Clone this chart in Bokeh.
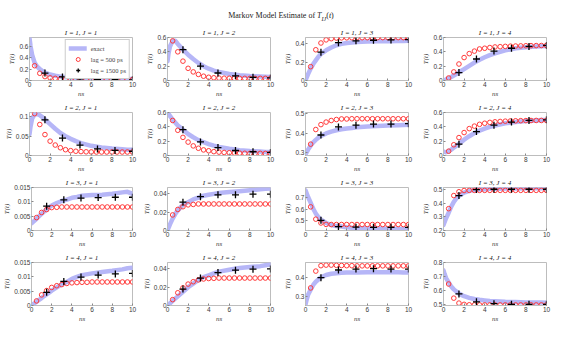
from bokeh.plotting import figure
from bokeh.layouts import column, row
from bokeh.models import Div, Range1d, FixedTicker, CustomJSTickFormatter
from bokeh.embed import file_html
from bokeh.resources import INLINE

# time grids (ns)
t_exact = [0, 0.1, 0.25, 0.5, 0.75, 1, 1.25, 1.5, 2, 2.5, 3, 3.5, 4, 4.5, 5, 6, 7, 8, 9, 9.5, 10]
t_500 = [0.5, 1.0, 1.5, 2.0, 2.5, 3.0, 3.5, 4.0, 4.5, 5.0, 5.5, 6.0, 6.5, 7.0, 7.5, 8.0, 8.5, 9.0, 9.5, 10.0]
t_1500 = [1.5, 3.2, 4.9, 6.6, 8.3, 10.0]
x_ticks = [0, 2, 4, 6, 8, 10]

# exact curves
ex_11 = [0.74, 0.6, 0.45, 0.31, 0.24, 0.2, 0.165, 0.14, 0.105, 0.083, 0.068, 0.058, 0.05, 0.044, 0.04, 0.034, 0.03, 0.028, 0.026, 0.025, 0.025]
ex_12 = [0.27, 0.38, 0.48, 0.55, 0.555, 0.51, 0.47, 0.43, 0.36, 0.30, 0.245, 0.2, 0.165, 0.138, 0.118, 0.09, 0.074, 0.063, 0.056, 0.053, 0.05]
ex_13 = [0, 0.03, 0.07, 0.13, 0.18, 0.22, 0.26, 0.29, 0.33, 0.36, 0.385, 0.4, 0.41, 0.415, 0.42, 0.425, 0.428, 0.43, 0.432, 0.433, 0.434]
ex_14 = [0, 0.005, 0.015, 0.03, 0.05, 0.07, 0.09, 0.115, 0.16, 0.205, 0.25, 0.29, 0.325, 0.355, 0.38, 0.42, 0.45, 0.465, 0.475, 0.478, 0.48]
ex_21 = [0.055, 0.075, 0.095, 0.106, 0.107, 0.104, 0.099, 0.093, 0.081, 0.069, 0.058, 0.05, 0.043, 0.037, 0.032, 0.025, 0.021, 0.018, 0.016, 0.015, 0.015]
ex_22 = [0.6, 0.58, 0.55, 0.5, 0.46, 0.42, 0.39, 0.36, 0.3, 0.255, 0.215, 0.185, 0.16, 0.138, 0.12, 0.093, 0.075, 0.063, 0.055, 0.05, 0.048]
ex_23 = [0.29, 0.3, 0.315, 0.335, 0.352, 0.365, 0.376, 0.385, 0.398, 0.407, 0.414, 0.419, 0.423, 0.426, 0.429, 0.433, 0.436, 0.438, 0.44, 0.441, 0.442]
ex_24 = [0.055, 0.05, 0.045, 0.059, 0.081, 0.111, 0.135, 0.162, 0.221, 0.269, 0.313, 0.346, 0.374, 0.399, 0.419, 0.449, 0.468, 0.481, 0.489, 0.494, 0.495]
ex_31 = [0.0025, 0.0028, 0.0033, 0.0041, 0.005, 0.0058, 0.0066, 0.0074, 0.0087, 0.0096, 0.0103, 0.0108, 0.0114, 0.0117, 0.0121, 0.0124, 0.0125, 0.0128, 0.0133, 0.0135, 0.0128]
ex_32 = [0, 0.003, 0.007, 0.013, 0.018, 0.022, 0.025, 0.028, 0.031, 0.034, 0.036, 0.038, 0.039, 0.04, 0.041, 0.042, 0.043, 0.044, 0.045, 0.0455, 0.046]
ex_33 = [0.757, 0.734, 0.70, 0.653, 0.602, 0.562, 0.533, 0.511, 0.483, 0.466, 0.457, 0.453, 0.447, 0.443, 0.441, 0.439, 0.437, 0.434, 0.432, 0.431, 0.432]
ex_34 = [0.24, 0.26, 0.29, 0.33, 0.375, 0.41, 0.435, 0.453, 0.477, 0.49, 0.497, 0.5, 0.503, 0.505, 0.506, 0.507, 0.508, 0.509, 0.51, 0.51, 0.51]
ex_41 = [0, 0.0003, 0.0007, 0.0013, 0.002, 0.0026, 0.0033, 0.0039, 0.0052, 0.0063, 0.0074, 0.0082, 0.0093, 0.01, 0.0106, 0.0112, 0.0117, 0.0121, 0.0126, 0.013, 0.0132]
ex_42 = [0, 0.001, 0.0025, 0.005, 0.0075, 0.01, 0.0125, 0.015, 0.02, 0.024, 0.028, 0.031, 0.033, 0.035, 0.037, 0.039, 0.041, 0.042, 0.043, 0.044, 0.045]
ex_43 = [0.255, 0.279, 0.307, 0.334, 0.36, 0.377, 0.389, 0.401, 0.413, 0.42, 0.423, 0.425, 0.426, 0.427, 0.427, 0.428, 0.428, 0.428, 0.428, 0.427, 0.427]
ex_44 = [0.745, 0.72, 0.69, 0.66, 0.63, 0.61, 0.595, 0.58, 0.562, 0.55, 0.542, 0.536, 0.532, 0.528, 0.526, 0.522, 0.52, 0.518, 0.517, 0.517, 0.516]

# lag = 500 ps estimates
r_11 = [0.258, 0.126, 0.068, 0.047, 0.037, 0.028, 0.022, 0.019, 0.017, 0.016, 0.015, 0.015, 0.015, 0.015, 0.015, 0.015, 0.015, 0.015, 0.015, 0.015]
r_12 = [0.553, 0.40, 0.27, 0.17, 0.12, 0.085, 0.06, 0.045, 0.038, 0.034, 0.032, 0.031, 0.03, 0.03, 0.03, 0.03, 0.03, 0.03, 0.03, 0.03]
r_13 = [0.151, 0.336, 0.41, 0.444, 0.457, 0.464, 0.466, 0.467, 0.468, 0.468, 0.468, 0.468, 0.469, 0.469, 0.469, 0.469, 0.469, 0.469, 0.469, 0.469]
r_14 = [0.035, 0.12, 0.23, 0.32, 0.375, 0.41, 0.44, 0.45, 0.46, 0.468, 0.472, 0.476, 0.479, 0.481, 0.483, 0.485, 0.486, 0.487, 0.488, 0.489]
r_21 = [0.108, 0.08, 0.054, 0.037, 0.027, 0.02, 0.015, 0.0125, 0.011, 0.01, 0.0095, 0.0092, 0.009, 0.009, 0.009, 0.009, 0.009, 0.009, 0.009, 0.009]
r_22 = [0.489, 0.352, 0.253, 0.187, 0.134, 0.101, 0.078, 0.066, 0.054, 0.047, 0.042, 0.038, 0.035, 0.033, 0.031, 0.03, 0.03, 0.03, 0.029, 0.029]
r_23 = [0.343, 0.418, 0.443, 0.456, 0.464, 0.469, 0.472, 0.472, 0.473, 0.473, 0.473, 0.473, 0.473, 0.473, 0.473, 0.473, 0.473, 0.473, 0.473, 0.473]
r_24 = [0.06, 0.15, 0.25, 0.32, 0.375, 0.41, 0.435, 0.45, 0.462, 0.47, 0.475, 0.479, 0.482, 0.484, 0.486, 0.487, 0.488, 0.489, 0.489, 0.49]
r_31 = [0.0045, 0.0063, 0.0073, 0.008, 0.0081, 0.0082, 0.0082, 0.0082, 0.0082, 0.0082, 0.0082, 0.0082, 0.0082, 0.0082, 0.0082, 0.0082, 0.0082, 0.0082, 0.0082, 0.0082]
r_32 = [0.017, 0.023, 0.026, 0.028, 0.0285, 0.029, 0.029, 0.029, 0.029, 0.029, 0.029, 0.029, 0.029, 0.029, 0.029, 0.029, 0.029, 0.029, 0.029, 0.029]
r_33 = [0.618, 0.515, 0.483, 0.471, 0.47, 0.47, 0.47, 0.47, 0.47, 0.47, 0.47, 0.47, 0.47, 0.47, 0.47, 0.47, 0.47, 0.47, 0.47, 0.47]
r_34 = [0.36, 0.456, 0.484, 0.493, 0.494, 0.494, 0.494, 0.494, 0.494, 0.494, 0.494, 0.494, 0.494, 0.494, 0.494, 0.494, 0.494, 0.494, 0.494, 0.494]
r_41 = [0.0016, 0.0037, 0.0052, 0.0063, 0.0069, 0.0073, 0.0077, 0.0079, 0.008, 0.0081, 0.0081, 0.0082, 0.0082, 0.0082, 0.0082, 0.0082, 0.0082, 0.0082, 0.0082, 0.0082]
r_42 = [0.0064, 0.0139, 0.0193, 0.0234, 0.026, 0.028, 0.029, 0.0295, 0.0297, 0.03, 0.03, 0.03, 0.03, 0.03, 0.03, 0.03, 0.03, 0.03, 0.03, 0.03]
r_43 = [0.344, 0.434, 0.463, 0.466, 0.466, 0.465, 0.464, 0.463, 0.463, 0.462, 0.462, 0.462, 0.462, 0.462, 0.462, 0.462, 0.462, 0.462, 0.462, 0.462]
r_44 = [0.648, 0.548, 0.513, 0.504, 0.501, 0.5, 0.5, 0.5, 0.5, 0.5, 0.5, 0.5, 0.5, 0.5, 0.5, 0.5, 0.5, 0.5, 0.5, 0.5]

# lag = 1500 ps estimates
p_11 = [0.13, 0.063, 0.03, 0.02, 0.016, 0.012]
p_12 = [0.43, 0.2, 0.105, 0.065, 0.045, 0.036]
p_13 = [0.31, 0.413, 0.434, 0.44, 0.444, 0.447]
p_14 = [0.11, 0.3, 0.41, 0.45, 0.475, 0.49]
p_21 = [0.092, 0.045, 0.027, 0.017, 0.013, 0.011]
p_22 = [0.36, 0.19, 0.11, 0.07, 0.052, 0.043]
p_23 = [0.39, 0.431, 0.44, 0.446, 0.446, 0.448]
p_24 = [0.158, 0.334, 0.423, 0.467, 0.489, 0.498]
p_31 = [0.0085, 0.0107, 0.0113, 0.0115, 0.0116, 0.0116]
p_32 = [0.031, 0.037, 0.039, 0.039, 0.0397, 0.0397]
p_33 = [0.505, 0.452, 0.448, 0.447, 0.447, 0.447]
p_34 = [0.456, 0.5, 0.502, 0.502, 0.502, 0.502]
p_41 = [0.0046, 0.0084, 0.0099, 0.0106, 0.011, 0.0112]
p_42 = [0.018, 0.03, 0.036, 0.0386, 0.0397, 0.04]
p_43 = [0.399, 0.44, 0.445, 0.447, 0.445, 0.445]
p_44 = [0.578, 0.522, 0.509, 0.504, 0.504, 0.504]

# y-axis limits and ticks
ylim_rows = [
    [(0, 0.75), (0, 0.6), (0, 0.47), (0, 0.6)],
    [(0, 0.111), (0, 0.6), (0.285, 0.505), (0, 0.6)],
    [(0, 0.015), (0, 0.047), (0.42, 0.78), (0.2, 0.515)],
    [(0, 0.015), (0, 0.047), (0.25, 0.48), (0.496, 0.8)],
]
yticks_rows = [
    [[0, 0.2, 0.4, 0.6], [0, 0.2, 0.4, 0.6], [0, 0.2, 0.4], [0, 0.2, 0.4, 0.6]],
    [[0, 0.05, 0.1], [0, 0.2, 0.4, 0.6], [0.3, 0.4, 0.5], [0, 0.2, 0.4, 0.6]],
    [[0, 0.005, 0.01, 0.015], [0, 0.02, 0.04], [0.5, 0.6, 0.7], [0.2, 0.3, 0.4, 0.5]],
    [[0, 0.005, 0.01, 0.015], [0, 0.02, 0.04], [0.3, 0.4], [0.5, 0.6, 0.7, 0.8]],
]

exact_rows = [[ex_11, ex_12, ex_13, ex_14], [ex_21, ex_22, ex_23, ex_24],
              [ex_31, ex_32, ex_33, ex_34], [ex_41, ex_42, ex_43, ex_44]]
red_rows = [[r_11, r_12, r_13, r_14], [r_21, r_22, r_23, r_24],
            [r_31, r_32, r_33, r_34], [r_41, r_42, r_43, r_44]]
plus_rows = [[p_11, p_12, p_13, p_14], [p_21, p_22, p_23, p_24],
             [p_31, p_32, p_33, p_34], [p_41, p_42, p_43, p_44]]

SERIF = "Liberation Serif"
SANS = "Liberation Sans"
GRAY = "#bdbdbd"
TXT = "#3a3a3a"

fmt_code = "return String(tick);"

rows = []
for i in range(4):
    figs = []
    for j in range(4):
        lo, hi = ylim_rows[i][j]
        p = figure(width=138, height=75, output_backend="svg", toolbar_location=None,
                   x_range=Range1d(0, 10), y_range=Range1d(lo, hi),
                   min_border_left=29, min_border_right=6, min_border_top=12, min_border_bottom=12)
        p.title.text = f"I = {i+1}, J = {j+1}"
        p.title.align = "center"
        p.title.text_font = SERIF
        p.title.text_font_style = "italic"
        p.title.text_font_size = "7px"
        p.title.text_color = "#222222"
        p.title.standoff = 1
        p.xgrid.visible = False
        p.ygrid.visible = False
        p.outline_line_color = GRAY
        p.background_fill_color = "white"
        p.border_fill_color = "white"

        p.xaxis.ticker = FixedTicker(ticks=x_ticks)
        p.yaxis.ticker = FixedTicker(ticks=yticks_rows[i][j])
        p.yaxis.formatter = CustomJSTickFormatter(code=fmt_code)
        p.xaxis.axis_label = "ns"
        p.yaxis.axis_label = "T(t)"
        for ax in (p.xaxis[0], p.yaxis[0]):
            ax.axis_line_color = GRAY
            ax.major_tick_line_color = "#888888"
            ax.major_tick_in = 2
            ax.major_tick_out = 0
            ax.minor_tick_line_color = None
            ax.major_label_text_font = SANS
            ax.major_label_text_font_size = "6.5px"
            ax.major_label_text_color = TXT
            ax.major_label_standoff = 1
            ax.axis_label_text_font = SERIF
            ax.axis_label_text_font_style = "italic"
            ax.axis_label_text_font_size = "7px"
            ax.axis_label_text_color = TXT
            ax.axis_label_standoff = 0

        kw_e = dict(legend_label="exact") if (i == 0 and j == 0) else {}
        kw_r = dict(legend_label="lag = 500 ps") if (i == 0 and j == 0) else {}
        kw_p = dict(legend_label="lag = 1500 ps") if (i == 0 and j == 0) else {}
        p.line(t_exact, exact_rows[i][j], line_width=4.5, line_color="#b6b6f7",
               line_join="round", line_cap="round", **kw_e)
        p.scatter(t_500, red_rows[i][j], marker="circle", size=4.6, fill_color=None,
                  line_color="#ff3a3a", line_width=1, **kw_r)
        p.scatter(t_1500, plus_rows[i][j], marker="cross", size=7, line_color="black",
                  line_width=1.3, **kw_p)
        if i == 0 and j == 0:
            lg = p.legend[0]
            lg.location = "top_right"
            lg.label_text_font = SERIF
            lg.label_text_font_size = "6.5px"
            lg.label_height = 10
            lg.glyph_height = 10
            lg.glyph_width = 18
            lg.spacing = 1
            lg.padding = 3
            lg.margin = 2
            lg.label_standoff = 4
            lg.border_line_color = "#999999"
            lg.background_fill_alpha = 1
        figs.append(p)
    rows.append(row(*figs))

title = Div(text='Markov Model Estimate of <i>T</i><sub style="font-size:6px"><i>IJ</i></sub>(<i>t</i>)',
            width=552, height=15,
            styles={"text-align": "center", "font-family": SERIF, "font-size": "8px",
                    "color": "#222222", "width": "552px", "padding-top": "5px"})

layout = column(title, *rows)
open("out.html", "w").write(file_html(layout, INLINE))
